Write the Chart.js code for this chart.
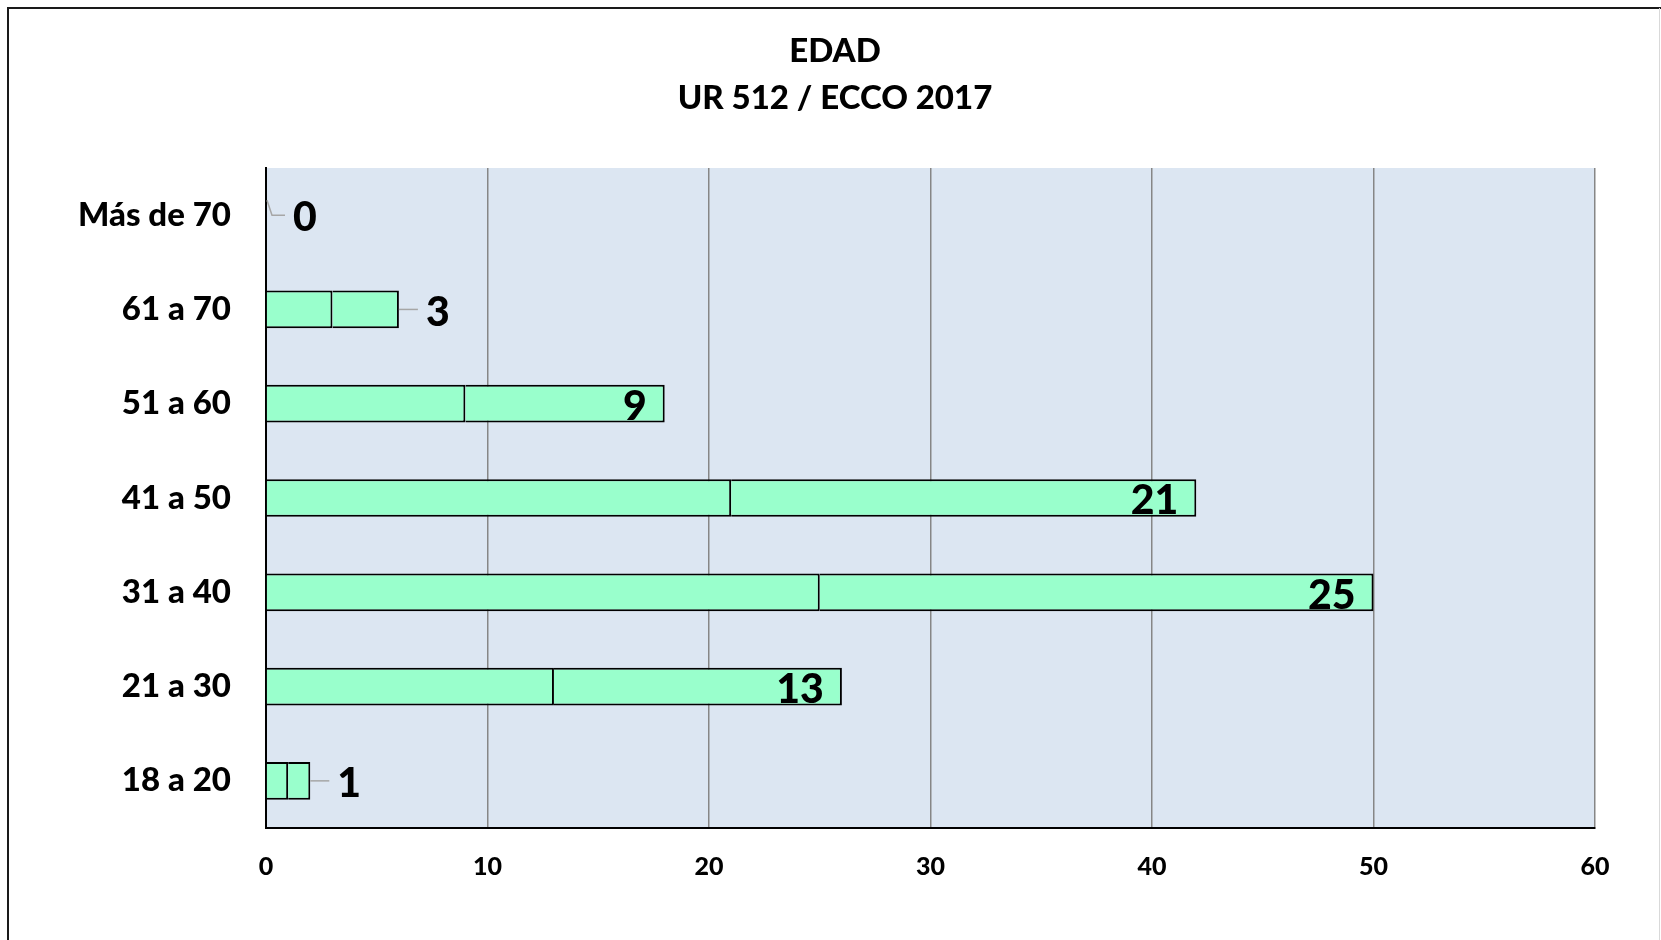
<!DOCTYPE html>
<html>
<head>
<meta charset="utf-8">
<title>EDAD</title>
<script src="https://cdn.jsdelivr.net/npm/chart.js@4/dist/chart.umd.min.js"></script>
<style>
  html, body { margin: 0; padding: 0; background: #fff; }
  canvas { display: block; }
</style>
</head>
<body>
<canvas id="edad" width="1661" height="940"></canvas>
<script>
// Rangos de edad (de arriba hacia abajo, como en el gráfico)
const rangos = ['Más de 70', '61 a 70', '51 a 60', '41 a 50', '31 a 40', '21 a 30', '18 a 20'];
// Las dos series apiladas tienen el mismo valor
const serieA = [0, 3, 9, 21, 25, 13, 1];
const serieB = [0, 3, 9, 21, 25, 13, 1];
const ticksX = [0, 10, 20, 30, 40, 50, 60];
const titulo = ['EDAD', 'UR 512 / ECCO 2017'];

const fuente = 'Lato';
const peso = '900';

// fondo del área de trazado, marco exterior y título
const fondo = {
  id: 'fondo',
  beforeDraw(chart) {
    const { ctx, chartArea: a } = chart;
    ctx.save();
    ctx.fillStyle = '#ffffff';
    ctx.fillRect(0, 0, chart.width, chart.height);
    ctx.fillStyle = '#DCE6F2';
    ctx.fillRect(a.left, a.top, a.right - a.left, a.bottom - a.top);
    ctx.strokeStyle = '#1a1a1a';
    ctx.lineWidth = 2;
    ctx.beginPath();
    ctx.moveTo(8, chart.height);
    ctx.lineTo(8, 8);
    ctx.lineTo(chart.width, 8);
    ctx.stroke();
    ctx.strokeStyle = '#d9d9d9';
    ctx.lineWidth = 1;
    ctx.beginPath();
    ctx.moveTo(chart.width - 1.5, 8);
    ctx.lineTo(chart.width - 1.5, chart.height);
    ctx.stroke();
    // título centrado sobre el marco
    ctx.fillStyle = '#000';
    ctx.font = peso + ' 33px ' + fuente;
    ctx.textAlign = 'center';
    ctx.textBaseline = 'middle';
    titulo.forEach((t, i) => ctx.fillText(t, 835, 51 + i * 47));
    ctx.restore();
  }
};

// etiquetas de datos al final de cada barra
const etiquetas = {
  id: 'etiquetas',
  afterDatasetsDraw(chart) {
    const { ctx } = chart;
    const x0 = chart.scales.x.getPixelForValue(0);
    const meta = chart.getDatasetMeta(1);
    ctx.save();
    ctx.font = peso + ' 41px ' + fuente;
    ctx.fillStyle = '#000';
    ctx.textBaseline = 'middle';
    meta.data.forEach((el, i) => {
      const v = serieB[i];
      const fin = el.x;
      const y = el.y;
      if (fin - x0 > 200) {
        ctx.textAlign = 'right';
        ctx.fillText(String(v), fin - 18, y + 3);
      } else {
        ctx.strokeStyle = '#a6a6a6';
        ctx.lineWidth = 1.5;
        ctx.beginPath();
        if (v === 0) {
          ctx.moveTo(fin + 1, y - 15);
          ctx.lineTo(fin + 6, y);
        } else {
          ctx.moveTo(fin, y);
        }
        ctx.lineTo(fin + 19, y);
        ctx.stroke();
        ctx.textAlign = 'left';
        ctx.fillText(String(v), fin + 27, y + 3);
      }
    });
    ctx.restore();
  }
};

const ctx = document.getElementById('edad').getContext('2d');
const grafico = new Chart(ctx, {
  type: 'bar',
  data: {
    labels: rangos,
    datasets: [
      {
        data: serieA,
        backgroundColor: '#99FFCC',
        borderColor: '#000',
        borderWidth: 2,
        borderSkipped: 'start',
        barPercentage: 0.4,
        categoryPercentage: 1
      },
      {
        data: serieB,
        backgroundColor: '#99FFCC',
        borderColor: '#000',
        borderWidth: 2,
        borderSkipped: 'start',
        barPercentage: 0.4,
        categoryPercentage: 1
      }
    ]
  },
  options: {
    indexAxis: 'y',
    responsive: false,
    animation: false,
    layout: { padding: { top: 168, left: 0, right: 66, bottom: 0 } },
    plugins: {
      legend: { display: false },
      tooltip: { enabled: false },
      title: { display: false }
    },
    scales: {
      x: {
        stacked: true,
        min: 0,
        max: 60,
        afterBuildTicks(scale) {
          scale.ticks = ticksX.map(v => ({ value: v }));
        },
        afterFit(scale) { scale.height = 112; },
        grid: { color: '#868686', lineWidth: 1.5, drawTicks: false },
        border: { display: true, color: '#000', width: 2 },
        ticks: {
          color: '#000',
          padding: 24,
          font: { family: fuente, size: 25, weight: peso }
        }
      },
      y: {
        stacked: true,
        afterFit(scale) { scale.width = 266; },
        grid: { display: false, drawTicks: false },
        border: { display: true, color: '#000', width: 2 },
        ticks: {
          color: '#000',
          padding: 35,
          font: { family: fuente, size: 33, weight: peso }
        }
      }
    }
  },
  plugins: [fondo, etiquetas]
});
</script>
</body>
</html>
